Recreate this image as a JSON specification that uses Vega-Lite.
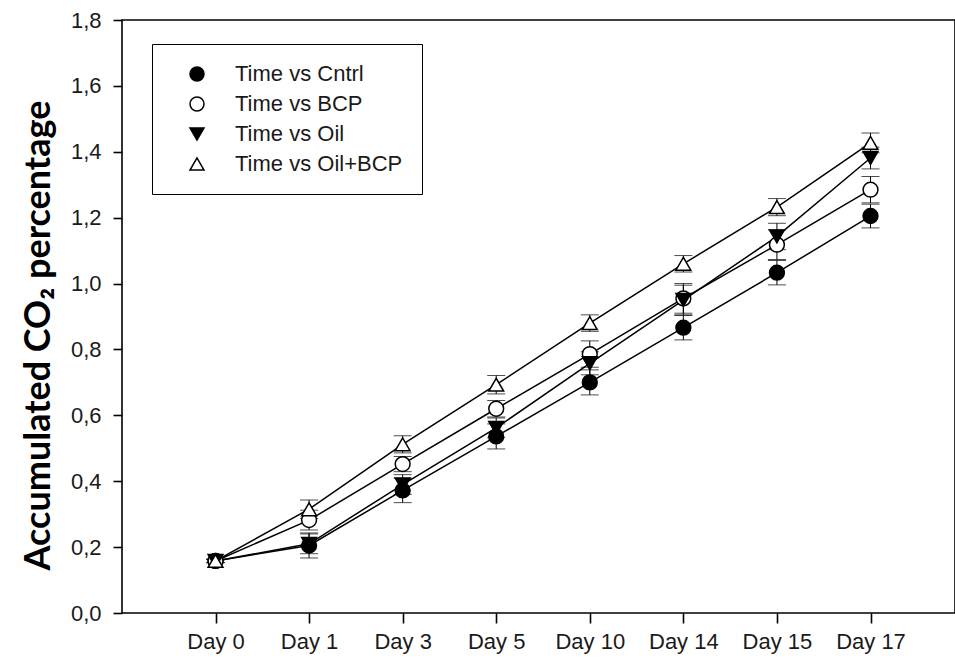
{
  "$schema": "https://vega.github.io/schema/vega-lite/v6.json",
  "width": 833,
  "height": 593,
  "autosize": "none",
  "padding": {"left": 122, "top": 20, "right": 0, "bottom": 49},
  "background": "white",
  "config": {
    "view": {"stroke": "black", "strokeWidth": 1.6},
    "font": "Liberation Sans"
  },
  "data": {
    "values": [
      {"day": "Day 0", "series": "Time vs Cntrl", "value": 0.158, "err": 0.005},
      {"day": "Day 1", "series": "Time vs Cntrl", "value": 0.205, "err": 0.038},
      {"day": "Day 3", "series": "Time vs Cntrl", "value": 0.372, "err": 0.037},
      {"day": "Day 5", "series": "Time vs Cntrl", "value": 0.536, "err": 0.038},
      {"day": "Day 10", "series": "Time vs Cntrl", "value": 0.700, "err": 0.038},
      {"day": "Day 14", "series": "Time vs Cntrl", "value": 0.866, "err": 0.037},
      {"day": "Day 15", "series": "Time vs Cntrl", "value": 1.033, "err": 0.037},
      {"day": "Day 17", "series": "Time vs Cntrl", "value": 1.205, "err": 0.036},
      {"day": "Day 0", "series": "Time vs BCP", "value": 0.158, "err": 0.005},
      {"day": "Day 1", "series": "Time vs BCP", "value": 0.282, "err": 0.03},
      {"day": "Day 3", "series": "Time vs BCP", "value": 0.452, "err": 0.023},
      {"day": "Day 5", "series": "Time vs BCP", "value": 0.620, "err": 0.025},
      {"day": "Day 10", "series": "Time vs BCP", "value": 0.786, "err": 0.04},
      {"day": "Day 14", "series": "Time vs BCP", "value": 0.955, "err": 0.045},
      {"day": "Day 15", "series": "Time vs BCP", "value": 1.118, "err": 0.045},
      {"day": "Day 17", "series": "Time vs BCP", "value": 1.285, "err": 0.04},
      {"day": "Day 0", "series": "Time vs Oil", "value": 0.158, "err": 0.005},
      {"day": "Day 1", "series": "Time vs Oil", "value": 0.210, "err": 0.03},
      {"day": "Day 3", "series": "Time vs Oil", "value": 0.390, "err": 0.03},
      {"day": "Day 5", "series": "Time vs Oil", "value": 0.562, "err": 0.03},
      {"day": "Day 10", "series": "Time vs Oil", "value": 0.758, "err": 0.035},
      {"day": "Day 14", "series": "Time vs Oil", "value": 0.950, "err": 0.045},
      {"day": "Day 15", "series": "Time vs Oil", "value": 1.143, "err": 0.04},
      {"day": "Day 17", "series": "Time vs Oil", "value": 1.381, "err": 0.033},
      {"day": "Day 0", "series": "Time vs Oil+BCP", "value": 0.158, "err": 0.005},
      {"day": "Day 1", "series": "Time vs Oil+BCP", "value": 0.315, "err": 0.028},
      {"day": "Day 3", "series": "Time vs Oil+BCP", "value": 0.512, "err": 0.026},
      {"day": "Day 5", "series": "Time vs Oil+BCP", "value": 0.693, "err": 0.028},
      {"day": "Day 10", "series": "Time vs Oil+BCP", "value": 0.880, "err": 0.025},
      {"day": "Day 14", "series": "Time vs Oil+BCP", "value": 1.060, "err": 0.025},
      {"day": "Day 15", "series": "Time vs Oil+BCP", "value": 1.232, "err": 0.026},
      {"day": "Day 17", "series": "Time vs Oil+BCP", "value": 1.427, "err": 0.03}
    ]
  },
  "encoding": {
    "x": {
      "field": "day",
      "type": "ordinal",
      "sort": ["Day 0", "Day 1", "Day 3", "Day 5", "Day 10", "Day 14", "Day 15", "Day 17"],
      "scale": {"type": "point", "range": [93.5, 748.5], "padding": 0},
      "axis": {
        "title": null,
        "labelAngle": 0,
        "labelFontSize": 22,
        "labelColor": "#1a1a1a",
        "labelPadding": 8,
        "tickSize": 10,
        "tickWidth": 1.6,
        "tickColor": "black",
        "domain": false,
        "grid": false
      }
    },
    "y": {
      "field": "value",
      "type": "quantitative",
      "scale": {"domain": [0, 1.8], "nice": false, "zero": true},
      "axis": {
        "values": [0, 0.2, 0.4, 0.6, 0.8, 1.0, 1.2, 1.4, 1.6, 1.8],
        "labelExpr": "replace(format(datum.value, '.1f'), '.', ',')",
        "labelFontSize": 22,
        "labelColor": "#1a1a1a",
        "labelPadding": 12,
        "tickSize": 9,
        "tickWidth": 1.6,
        "tickColor": "black",
        "domain": false,
        "grid": false,
        "title": "Accumulated CO₂ percentage",
        "titleFont": "Lato",
        "titleFontWeight": "bold",
        "titleFontSize": 36,
        "titleColor": "black",
        "titleX": -73,
        "titleY": 315,
        "titleAngle": -90,
        "titleAlign": "center",
        "titleBaseline": "alphabetic"
      }
    }
  },
  "layer": [
    {
      "mark": {"type": "errorbar", "color": "black", "ticks": {"size": 18, "color": "black"}},
      "encoding": {
        "yError": {"field": "err"},
        "detail": {"field": "series"}
      }
    },
    {
      "mark": {"type": "line", "color": "black", "strokeWidth": 1.5},
      "encoding": {"detail": {"field": "series"}}
    },
    {
      "mark": {"type": "point", "filled": true, "fillOpacity": 1, "opacity": 1, "stroke": "black", "strokeWidth": 1.5, "size": 220},
      "encoding": {
        "shape": {
          "field": "series",
          "scale": {"domain": ["Time vs Cntrl", "Time vs BCP", "Time vs Oil", "Time vs Oil+BCP"], "range": ["circle", "circle", "triangle-down", "triangle-up"]},
          "legend": {
            "title": null,
            "orient": "none",
            "legendX": 30,
            "legendY": 24,
            "padding": 19,
            "rowPadding": 8,
            "strokeColor": "black",
            "fillColor": "white",
            "cornerRadius": 0,
            "labelFontSize": 22,
            "labelColor": "#1a1a1a",
            "labelLimit": 400,
            "symbolSize": 196,
            "symbolOpacity": 1,
            "symbolOffset": 15,
            "labelOffset": 27,
            "encode": {
              "legend": {"strokeWidth": {"value": 1.5}},
              "symbols": {
                "shape": {
                  "condition": [
                    {"test": "datum.value === 'Time vs Cntrl'", "value": "M-3.79,-0.107L-0.95,-0.107L-0.95,0.107L-3.79,0.107ZM0.95,-0.107L3.79,-0.107L3.79,0.107L0.95,0.107ZM-1,0A1,1,0,1,1,1,0A1,1,0,1,1,-1,0Z"},
                    {"test": "datum.value === 'Time vs BCP'", "value": "M-3.79,-0.107L-0.95,-0.107L-0.95,0.107L-3.79,0.107ZM0.95,-0.107L3.79,-0.107L3.79,0.107L0.95,0.107ZM-1,0A1,1,0,1,1,1,0A1,1,0,1,1,-1,0ZM-0.786,0A0.786,0.786,0,1,0,0.786,0A0.786,0.786,0,1,0,-0.786,0Z"},
                    {"test": "datum.value === 'Time vs Oil'", "value": "M-3.79,-0.107L-0.5,-0.107L-0.5,0.107L-3.79,0.107ZM0.5,-0.107L3.79,-0.107L3.79,0.107L0.5,0.107ZM0,0.866L-1,-0.866L1,-0.866Z"}
                  ],
                  "value": "M-3.79,-0.107L-0.45,-0.107L-0.45,0.107L-3.79,0.107ZM0.45,-0.107L3.79,-0.107L3.79,0.107L0.45,0.107ZM0,-0.866L1,0.866L-1,0.866ZM0,-0.438L-0.629,0.652L0.629,0.652Z"
                },
                "fill": {"value": "black"},
                "fillOpacity": {"value": 1},
                "opacity": {"value": 1},
                "strokeWidth": {"value": 0}
              }
            }
          }
        },
        "fill": {
          "field": "series",
          "scale": {"domain": ["Time vs Cntrl", "Time vs BCP", "Time vs Oil", "Time vs Oil+BCP"], "range": ["black", "white", "black", "white"]},
          "legend": null
        }
      }
    }
  ]
}
